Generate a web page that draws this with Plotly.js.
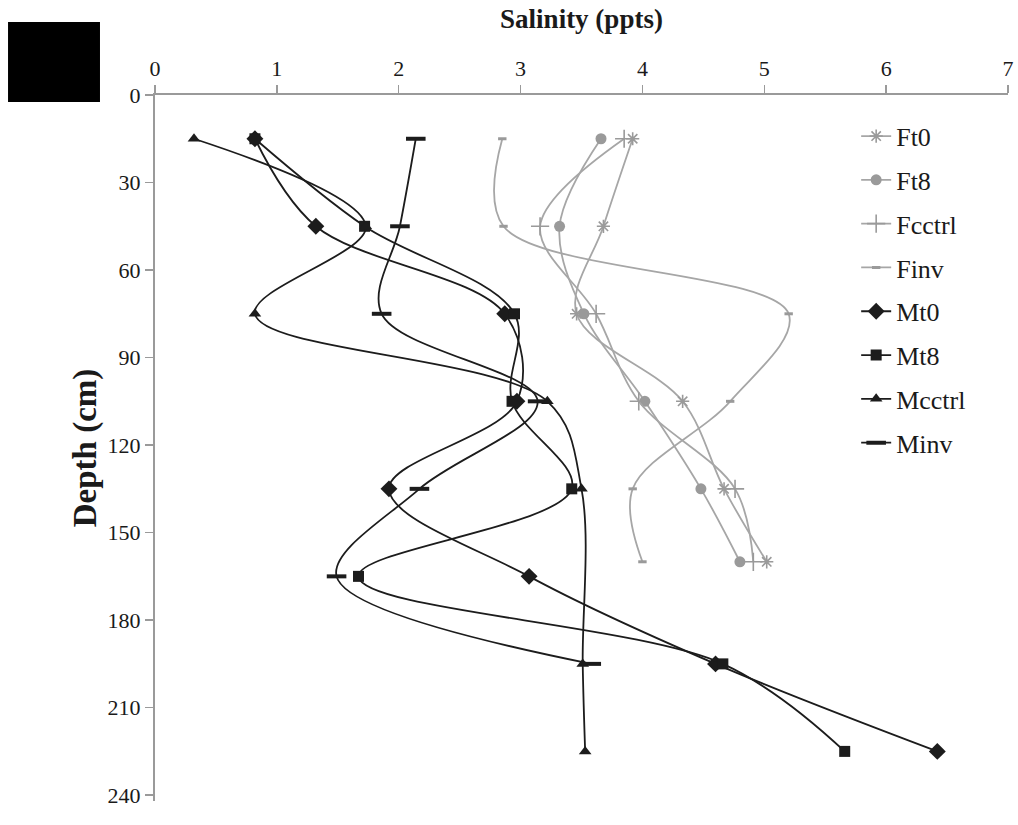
<!DOCTYPE html>
<html>
<head>
<meta charset="utf-8">
<script src="https://cdn.plot.ly/plotly-3.0.1.min.js"></script>
<style>
  html, body { margin: 0; padding: 0; background: #fff; }
  #chart { width: 1018px; height: 825px; }
</style>
</head>
<body>
<div id="chart"></div>
<script>
// Sampling depths (cm)
const depthF = [15, 45, 75, 105, 135, 160];
const depthM = [15, 45, 75, 105, 135, 165, 195, 225];

// Salinity (ppts), field series
const Ft0    = [3.92, 3.68, 3.46, 4.33, 4.67, 5.02];
const Ft8    = [3.66, 3.32, 3.52, 4.02, 4.48, 4.80];
const Fcctrl = [3.85, 3.16, 3.62, 3.97, 4.76, 4.91];
const Finv   = [2.85, 2.86, 5.20, 4.72, 3.92, 4.00];

// Salinity (ppts), mesocosm series
const Mt0    = [0.82, 1.32, 2.87, 2.97, 1.92, 3.07, 4.60, 6.42];
const Mt8    = [0.82, 1.72, 2.95, 2.93, 3.42, 1.67, 4.66, 5.66];
const Mcctrl = [0.32, 1.73, 0.82, 3.22, 3.50, null, 3.51, 3.53];
const Minv   = [2.14, 2.01, 1.86, 3.14, 2.17, 1.49, 3.58, null];

const seriesNames = ['Ft0', 'Ft8', 'Fcctrl', 'Finv', 'Mt0', 'Mt8', 'Mcctrl', 'Minv'];

const GREY = '#a6a6a6';
const GREY_MK = '#9a9a9a';
const BLACK = '#1c1c1c';

function trace(name, x, y, color, mcolor, symbol, size, mline) {
  return {
    type: 'scatter',
    mode: 'lines+markers',
    name: name,
    legendgroup: name,
    x: x,
    y: y,
    connectgaps: true,
    line: { color: color, width: 1.8, shape: 'spline', smoothing: 1 },
    marker: {
      symbol: symbol,
      size: size,
      color: mcolor,
      line: { color: mcolor, width: mline }
    }
  };
}

const data = [
  trace(seriesNames[0], Ft0, depthF, GREY, GREY_MK, 'asterisk-open', 11, 1.6),
  trace(seriesNames[1], Ft8, depthF, GREY, GREY_MK, 'circle', 11, 0),
  trace(seriesNames[2], Fcctrl, depthF, GREY, GREY_MK, 'cross-thin-open', 13, 1.6),
  trace(seriesNames[3], Finv, depthF, GREY, GREY_MK, 'line-ew-open', 6, 3),
  trace(seriesNames[4], Mt0, depthM, BLACK, BLACK, 'diamond', 13, 0),
  trace(seriesNames[5], Mt8, depthM, BLACK, BLACK, 'square', 11, 0),
  trace(seriesNames[6], Mcctrl, depthM, BLACK, BLACK, 'triangle-up', 11, 0),
  trace(seriesNames[7], Minv, depthM, BLACK, BLACK, 'line-ew-open', 14, 4)
];

const FONT = 'Liberation Serif, Times New Roman, serif';

const layout = {
  width: 1018,
  height: 825,
  margin: { l: 155, r: 10, t: 95, b: 24 },
  paper_bgcolor: '#ffffff',
  plot_bgcolor: '#ffffff',
  font: { family: FONT, color: '#1a1a1a', size: 22 },
  showlegend: true,
  legend: {
    x: 0.822, xanchor: 'left',
    y: 0.975, yanchor: 'top',
    traceorder: 'grouped',
    tracegroupgap: 7,
    font: { family: FONT, size: 26, color: '#1a1a1a' },
    bgcolor: 'rgba(0,0,0,0)'
  },
  xaxis: {
    side: 'top',
    range: [0, 7],
    dtick: 1,
    showgrid: false,
    zeroline: false,
    showline: true,
    linecolor: '#9a9a9a',
    linewidth: 2,
    ticks: 'outside',
    ticklen: 8,
    tickwidth: 1.5,
    tickcolor: '#9a9a9a',
    tickfont: { family: FONT, size: 22, color: '#1a1a1a' },
    title: {
      text: '<b>Salinity (ppts)</b>',
      font: { family: FONT, size: 27, color: '#1a1a1a' },
      standoff: 20
    }
  },
  yaxis: {
    range: [242, 0],
    dtick: 30,
    tick0: 0,
    showgrid: false,
    zeroline: false,
    showline: true,
    linecolor: '#9a9a9a',
    linewidth: 2,
    ticks: 'outside',
    ticklen: 8,
    tickwidth: 1.5,
    tickcolor: '#9a9a9a',
    tickfont: { family: FONT, size: 22, color: '#1a1a1a' },
    title: {
      text: '<b>Depth (cm)</b>',
      font: { family: FONT, size: 33, color: '#1a1a1a' },
      standoff: 1
    }
  },
  shapes: [
    {
      type: 'rect', xref: 'paper', yref: 'paper', layer: 'above',
      x0: -0.1723, x1: -0.0645, y0: 0.990, y1: 1.1034,
      fillcolor: '#000000', line: { width: 0 }
    }
  ]
};

Plotly.newPlot('chart', data, layout, { displayModeBar: false, staticPlot: true });
</script>
</body>
</html>
